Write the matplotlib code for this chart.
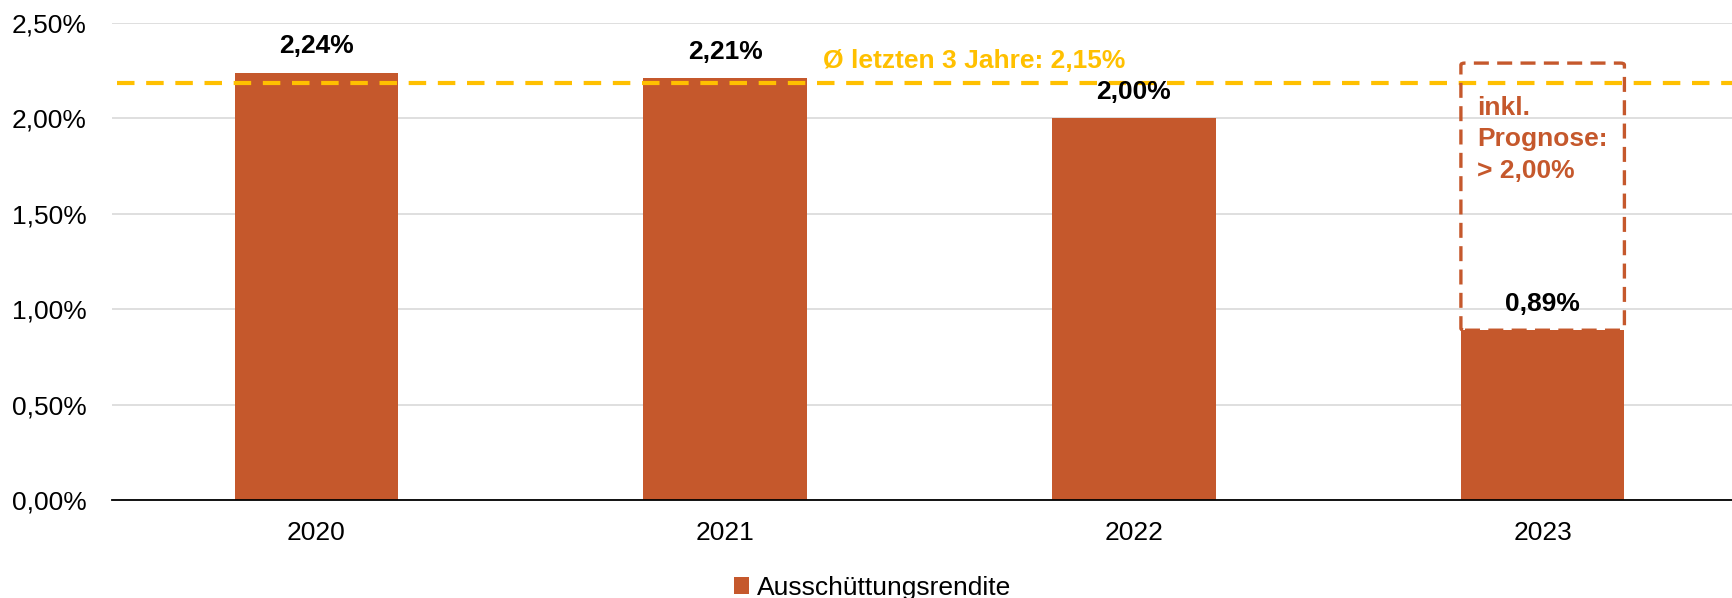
#!/usr/bin/env python3
"""Ausschuettungsrendite 2020-2023 als Balkendiagramm."""

import matplotlib

matplotlib.use("Agg")
import matplotlib.pyplot as plt
from matplotlib.patches import FancyBboxPatch, Patch

# Farben
BAR = "#C5582C"
AVG = "#FFC000"
GRID = "#D9D9D9"
INK = "#000000"

FS = 19

plt.rcParams["font.family"] = ["Liberation Sans", "DejaVu Sans"]

# Daten
YEARS = ["2020", "2021", "2022", "2023"]
YIELD = [2.24, 2.21, 2.00, 0.89]
SERIES = "Ausschüttungsrendite"
AVG_LEVEL = 2.185          # Lage der gestrichelten Linie im Bild
AVG_TEXT = "Ø letzten 3 Jahre: 2,15%"
FORECAST_TOP = 2.29
FORECAST_TEXT = "inkl.\nPrognose:\n> 2,00%"
YTICKS = [0.0, 0.5, 1.0, 1.5, 2.0, 2.5]


def pct(v):
    return f"{v:.2f}".replace(".", ",") + "%"


def main():
    fig = plt.figure(figsize=(17.33, 5.98), dpi=100)
    ax = fig.add_axes([0.0646, 0.1639, 0.9435, 0.7976])

    x = list(range(len(YEARS)))
    ax.bar(x, YIELD, width=0.4, color=BAR, linewidth=0, zorder=3)
    for xi, v in zip(x, YIELD):
        ax.annotate(pct(v), (xi, v), textcoords="offset points", xytext=(0, 19),
                    ha="center", va="center", fontsize=FS, fontweight="bold",
                    color=INK, zorder=5)

    # Durchschnittslinie
    ax.axhline(AVG_LEVEL, xmin=0.003, color=AVG, linewidth=3,
               dashes=(4.2, 2.8), zorder=4)
    ax.text(1.24, 2.30, AVG_TEXT, ha="left", va="center", fontsize=FS,
            fontweight="bold", color=AVG, zorder=5)

    # Prognose-Rahmen um 2023
    i = len(YEARS) - 1
    ax.add_patch(FancyBboxPatch((i - 0.2, YIELD[i]), 0.4, FORECAST_TOP - YIELD[i],
                                boxstyle="round,pad=0,rounding_size=0.01",
                                fill=False, edgecolor=BAR, linewidth=2.4,
                                linestyle=(0, (4.5, 2.5)), zorder=4))
    ax.text(i - 0.16, 1.89, FORECAST_TEXT, ha="left", va="center", fontsize=FS,
            fontweight="bold", color=BAR, linespacing=1.4, zorder=5)

    ax.set_xlim(-0.5, 3.5)
    ax.set_ylim(0, 2.5)
    ax.set_xticks(x)
    ax.set_xticklabels(YEARS, fontsize=FS)
    ax.set_yticks(YTICKS)
    ax.set_yticklabels([pct(t) for t in YTICKS], fontsize=FS)
    ax.tick_params(length=0)
    ax.tick_params(axis="y", pad=18)
    ax.tick_params(axis="x", pad=15)
    ax.grid(axis="y", color=GRID, linewidth=1.2, zorder=0)
    for side in ("top", "right", "left"):
        ax.spines[side].set_visible(False)
    ax.spines["bottom"].set_color(INK)
    ax.spines["bottom"].set_linewidth(1.3)
    ax.spines["bottom"].set_zorder(6)

    fig.legend(handles=[Patch(facecolor=BAR, label=SERIES)], loc="center",
               bbox_to_anchor=(0.5035, 0.017), frameon=False, fontsize=FS,
               handlelength=0.6, handleheight=0.6, handletextpad=0.3)

    fig.savefig("out.png", dpi=100, facecolor="white")
    plt.close(fig)


if __name__ == "__main__":
    main()
